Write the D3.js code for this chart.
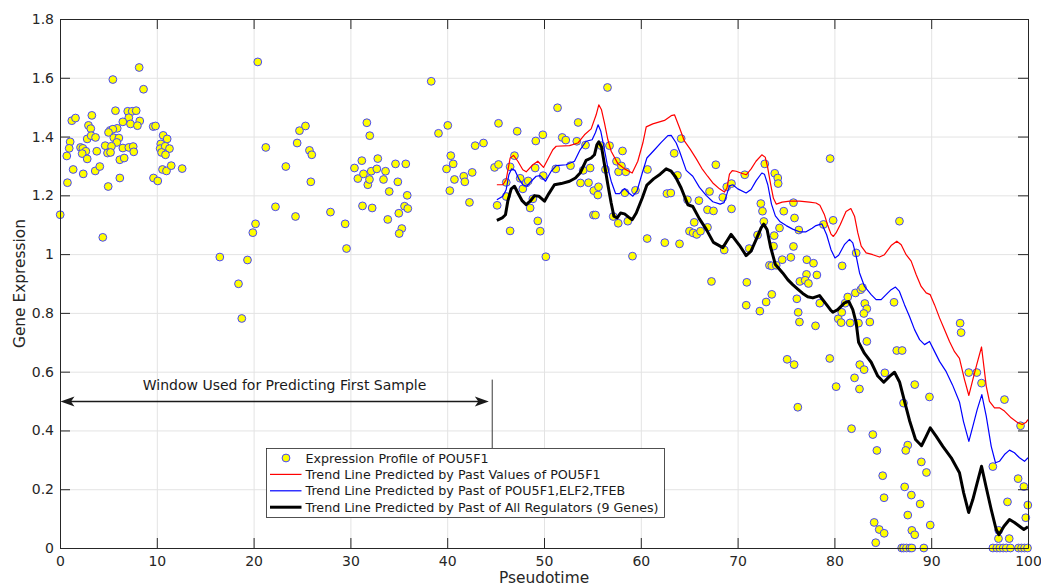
<!DOCTYPE html>
<html>
<head>
<meta charset="utf-8">
<script src="https://cdn.jsdelivr.net/npm/d3@7"></script>
<style>
  html, body { margin: 0; padding: 0; background: #fff; }
  svg { display: block; font-family: "DejaVu Sans", sans-serif; }
</style>
</head>
<body>
<svg id="chart" width="1041" height="586"></svg>
<script>
// Tick labels
const xTicks = [0, 10, 20, 30, 40, 50, 60, 70, 80, 90, 100];
const yTicks = [0, 0.2, 0.4, 0.6, 0.8, 1, 1.2, 1.4, 1.6, 1.8];

// Measured expression of POU5F1 along pseudotime: [pseudotime, expression]
const profile = [
  [0.02,1.134],[4.42,1.057],[8.18,1.635],[5.46,1.594],[8.63,1.561],[1.22,1.454],[1.6,1.463],[3.29,1.472],[5.73,1.488],[7.0,1.486],
  [7.46,1.486],[7.87,1.488],[7.11,1.464],[6.49,1.45],[7.28,1.443],[8.24,1.453],[8.0,1.437],[9.63,1.434],[9.87,1.436],[2.94,1.438],
  [3.18,1.427],[5.91,1.428],[5.18,1.421],[5.46,1.425],[5.01,1.414],[2.81,1.392],[3.22,1.403],[3.67,1.397],[5.56,1.396],[6.08,1.395],
  [5.87,1.38],[1.05,1.382],[0.95,1.36],[0.7,1.334],[2.12,1.363],[2.36,1.36],[2.67,1.35],[2.29,1.342],[2.81,1.324],[3.8,1.35],
  [4.67,1.369],[5.32,1.367],[4.91,1.344],[5.22,1.346],[6.49,1.361],[7.11,1.363],[7.56,1.366],[7.62,1.348],[6.18,1.321],[6.63,1.327],
  [1.36,1.288],[2.4,1.273],[0.77,1.243],[3.64,1.283],[4.11,1.298],[4.98,1.23],[6.18,1.259],[9.66,1.259],[10.1,1.249],[10.66,1.404],
  [11.07,1.392],[10.41,1.375],[10.35,1.359],[10.87,1.367],[11.31,1.359],[10.49,1.346],[10.9,1.338],[10.59,1.288],[11.0,1.283],[11.49,1.301],
  [12.62,1.291],
  [20.43,1.654],[38.35,1.588],[16.51,0.99],[18.44,0.899],[18.78,0.781],[19.37,0.98],[19.92,1.073],[20.2,1.103],[21.26,1.363],[22.26,1.161],
  [23.33,1.298],[24.33,1.128],[24.74,1.42],[25.36,1.436],[24.5,1.378],[25.77,1.353],[26.01,1.338],[25.91,1.246],[27.94,1.143],[29.46,1.103],
  [29.6,1.019],[31.7,1.447],[32.0,1.403],[30.42,1.293],[31.18,1.318],[30.77,1.257],[31.35,1.273],[31.8,1.236],[31.97,1.254],[32.15,1.282],
  [32.73,1.29],[32.83,1.325],[33.42,1.254],[33.63,1.282],[34.01,1.213],[34.66,1.307],[35.72,1.307],[34.9,1.246],[31.25,1.164],[32.25,1.157],
  [33.86,1.118],[35.0,1.139],[35.59,1.163],[35.93,1.155],[35.87,1.2],[35.31,1.087],[35.04,1.07],[39.1,1.411],[40.06,1.438],[40.37,1.335],
  [40.62,1.307],[39.93,1.29],[40.75,1.254],[40.27,1.216],[41.71,1.265],[41.82,1.246],[42.3,1.176],
  [42.89,1.369],[43.75,1.378],[42.58,1.278],[45.3,1.445],[44.89,1.295],[45.3,1.305],[45.16,1.166],[46.1,1.244],[46.1,1.196],[46.5,1.297],
  [46.95,1.335],[47.23,1.418],[46.5,1.079],[47.54,1.258],[47.81,1.222],[48.16,1.242],[48.37,1.249],[48.57,1.157],[48.85,1.188],[49.09,1.293],
  [49.15,1.385],[49.88,1.406],[49.36,1.113],[49.61,1.078],[49.92,1.267],[50.19,0.991],[51.4,1.498],[51.22,1.29],[51.88,1.397],[52.25,1.388],
  [52.74,1.301],[53.39,1.384],[53.53,1.448],[53.77,1.242],[54.05,1.285],[54.29,1.371],[54.6,1.243],[54.77,1.293],[55.14,1.216],[55.56,1.201],
  [55.63,1.229],[55.11,1.133],[55.32,1.133],[55.91,1.369],[56.77,1.369],[56.56,1.567],[56.35,1.288],[57.15,1.128],[57.67,1.105],[58.11,1.351],
  [57.49,1.316],[57.7,1.28],[58.45,1.28],[58.0,1.3],[58.35,1.209],[58.66,1.112],[59.14,0.993],[59.45,1.217],[60.69,1.288],[60.66,1.053],
  [62.48,1.039],[62.7,1.206],[63.1,1.208],
  [64.17,1.393],[63.45,1.343],[63.79,1.268],[67.75,1.304],[64.82,1.185],[66.0,1.182],[67.1,1.213],[66.89,1.151],[67.51,1.147],[68.47,1.193],
  [68.88,1.229],[69.37,1.24],[70.74,1.27],[69.37,1.154],[65.52,1.108],[65.03,1.078],[65.41,1.072],[65.78,1.067],[66.17,1.078],[66.89,1.091],
  [64.0,1.035],[68.62,1.014],[67.3,0.907],[70.95,0.904],[70.89,0.826],[71.2,1.019],[72.06,1.065],[72.3,0.806],[72.95,0.837],[73.53,0.863],
  [72.4,1.172],[72.57,1.146],[72.71,1.111],[72.81,1.307],[73.84,1.275],[74.15,1.259],[74.19,1.24],[73.78,1.063],[73.71,1.027],[73.29,0.962],
  [73.53,0.96],[73.99,0.962],[74.33,1.089],[74.77,1.146],[75.77,1.175],[75.88,1.123],[74.61,0.981],[75.5,0.989],[75.77,1.026],[77.15,0.981],
  [77.84,0.969],[78.19,0.929],[77.12,0.931],[76.43,0.907],[76.98,0.911],[77.32,0.9],[76.12,0.848],[76.26,0.802],[76.39,0.769],[78.05,0.756],
  [78.49,0.833],[79.87,1.115],[79.56,1.325],[78.87,1.101],[76.32,1.082],
  [80.4,0.78],[80.7,0.767],[80.76,0.802],[80.8,0.96],[82.25,1.004],[86.72,1.112],[86.16,0.836],[81.63,0.766],[82.49,0.765],[81.11,0.833],
  [81.38,0.854],[82.17,0.868],[82.73,0.879],[82.9,0.886],[83.14,0.832],[83.35,0.814],[83.04,0.798],[83.66,0.769],[83.35,0.703],[75.12,0.642],
  [75.84,0.624],[79.52,0.645],[82.62,0.624],[83.07,0.607],[82.08,0.579],[80.18,0.549],[82.59,0.541],[85.21,0.596],[86.44,0.672],[87.0,0.672],
  [88.3,0.556],[89.82,0.514],[92.99,0.765],[93.09,0.733],[93.88,0.597],[94.71,0.597],[95.2,0.561],[97.57,0.505],[76.22,0.479],[81.77,0.406],
  [87.14,0.493],[83.97,0.386],[84.39,0.332],[87.58,0.35],[87.37,0.332],[88.98,0.293],[89.51,0.257],[84.99,0.246],[85.13,0.171],[87.26,0.208],
  [87.95,0.18],[88.86,0.15],[87.58,0.112],[84.11,0.087],[84.63,0.063],[85.14,0.05],[84.27,0.018],[88.0,0.06],[88.3,0.045],[89.9,0.078],
  [86.95,0],[87.15,0],[87.45,0],[87.8,0],[88.0,0],[89.24,0],
  [99.23,0.416],[96.37,0.277],[98.98,0.236],[99.57,0.209],[97.88,0.157],[99.98,0.146],[99.77,0.103],[96.98,0.06],[96.95,0.032],[98.06,0.032],
  [96.37,0],[96.78,0],[97.09,0],[97.44,0],[97.75,0],[98.19,0],[99.02,0],[99.33,0],[99.64,0],[99.95,0]
];

// Trend predicted from past values of POU5F1 only
const trendSelf = [
  [45.13,1.236],[45.75,1.236],[46.09,1.253],[46.5,1.327],[46.85,1.336],[47.3,1.316],[47.81,1.287],[48.16,1.28],[48.85,1.304],[49.36,1.316],
  [49.95,1.295],[50.91,1.355],[51.26,1.367],[52.64,1.369],[53.49,1.378],[54.18,1.406],[54.87,1.426],[55.39,1.474],[55.66,1.508],[55.94,1.491],
  [56.25,1.446],[56.6,1.389],[56.94,1.35],[57.63,1.308],[58.32,1.29],[59.11,1.276],[59.69,1.316],[60.21,1.378],[60.56,1.433],[61.24,1.443],
  [62.45,1.455],[63.14,1.471],[63.48,1.474],[64.0,1.43],[64.5,1.385],[65.1,1.357],[65.72,1.325],[66.3,1.292],[66.9,1.265],[67.5,1.24],
  [68.13,1.222],[68.64,1.211],[68.9,1.225],[69.16,1.272],[69.45,1.284],[69.85,1.282],[70.4,1.275],[70.89,1.27],[71.4,1.29],[71.9,1.316],
  [72.5,1.338],[72.85,1.33],[73.1,1.296],[73.4,1.24],[73.7,1.19],[74.0,1.17],[74.6,1.177],[75.4,1.18],[76.4,1.18],[77.42,1.177],
  [78.1,1.174],[78.5,1.166],[78.96,1.135],[79.31,1.098],[79.65,1.068],[79.89,1.06],[80.17,1.072],[80.6,1.1],[81.2,1.145],[81.7,1.155],
  [82.08,1.129],[82.42,1.072],[82.77,1.027],[83.28,1.004],[83.97,0.998],[84.66,0.99],[85.17,0.998],[85.86,1.029],[86.45,1.044],[86.9,1.032],
  [87.41,0.998],[87.93,0.976],[88.45,0.93],[88.96,0.89],[89.48,0.868],[89.9,0.862],[90.34,0.828],[90.86,0.783],[91.38,0.743],[91.89,0.703],
  [92.41,0.668],[92.92,0.645],[93.44,0.573],[93.89,0.519],[94.3,0.573],[94.71,0.625],[95.2,0.684],[95.69,0.55],[96.02,0.499],[96.54,0.477],
  [97.05,0.477],[97.57,0.466],[98.26,0.443],[98.95,0.426],[99.4,0.42],[99.81,0.428],[100,0.437]
];

// Trend predicted from past of POU5F1, ELF2 and TFEB
const trendThree = [
  [45.13,1.185],[45.75,1.197],[46.09,1.219],[46.37,1.27],[46.64,1.29],[46.99,1.285],[47.4,1.256],[47.81,1.236],[48.23,1.231],[48.68,1.248],
  [49.19,1.265],[49.61,1.267],[50.16,1.248],[50.74,1.282],[51.26,1.301],[52.29,1.304],[53.15,1.316],[53.73,1.355],[54.35,1.384],[54.97,1.389],
  [55.32,1.414],[55.59,1.44],[55.87,1.418],[56.25,1.355],[56.6,1.293],[56.94,1.248],[57.39,1.206],[57.81,1.206],[58.32,1.223],[58.77,1.208],
  [59.18,1.197],[59.6,1.214],[60.15,1.276],[60.63,1.327],[61.42,1.355],[62.11,1.38],[62.8,1.403],[63.14,1.404],[63.66,1.378],[64.0,1.35],
  [64.69,1.285],[65.37,1.265],[66.06,1.227],[66.75,1.2],[67.44,1.178],[68.2,1.17],[68.6,1.175],[68.85,1.2],[69.16,1.232],[69.5,1.236],
  [70.02,1.222],[70.88,1.208],[71.39,1.22],[71.92,1.25],[72.5,1.276],[72.77,1.272],[73.12,1.236],[73.5,1.17],[73.9,1.13],[74.4,1.11],
  [75.02,1.097],[75.69,1.085],[76.39,1.076],[77.07,1.076],[77.7,1.088],[78.1,1.097],[78.7,1.103],[79.2,1.066],[79.65,1.015],[80.06,0.987],
  [80.44,0.996],[81.03,1.032],[81.56,1.05],[81.9,1.038],[82.25,0.993],[82.6,0.936],[83.11,0.89],[83.8,0.862],[84.31,0.845],[84.83,0.845],
  [85.34,0.862],[85.86,0.879],[86.31,0.888],[86.72,0.873],[87.24,0.828],[87.76,0.788],[88.28,0.743],[88.8,0.709],[89.31,0.692],[89.83,0.703],
  [90.34,0.669],[90.86,0.635],[91.55,0.6],[92.2,0.555],[92.92,0.497],[93.33,0.431],[93.89,0.363],[94.3,0.414],[94.75,0.471],[95.23,0.522],
  [95.69,0.448],[96.2,0.346],[96.64,0.29],[97.05,0.295],[97.57,0.318],[98.09,0.333],[98.6,0.324],[99.12,0.307],[99.64,0.295],[100,0.307]
];

// Trend predicted from past of all nine regulators
const trendAll = [
  [45.13,1.115],[45.68,1.123],[46.02,1.134],[46.26,1.18],[46.61,1.222],[46.95,1.231],[47.3,1.208],[47.71,1.183],[48.16,1.168],[48.57,1.18],
  [49.02,1.199],[49.46,1.197],[50.05,1.18],[50.5,1.206],[51.08,1.236],[51.77,1.24],[52.64,1.248],[53.25,1.259],[53.73,1.276],[54.35,1.319],
  [54.87,1.327],[55.21,1.338],[55.46,1.372],[55.66,1.382],[55.94,1.365],[56.25,1.304],[56.6,1.236],[56.94,1.174],[57.22,1.129],[57.56,1.123],
  [57.91,1.14],[58.32,1.137],[58.77,1.125],[59.11,1.117],[59.53,1.14],[60.15,1.191],[60.63,1.235],[61.32,1.256],[62.0,1.272],[62.62,1.29],
  [63.14,1.282],[63.59,1.263],[64.17,1.225],[64.86,1.168],[65.37,1.162],[66.06,1.12],[66.75,1.085],[67.5,1.04],[68.47,1.022],[68.88,1.044],
  [69.33,1.067],[70.19,1.03],[70.88,0.995],[71.39,1.01],[71.91,1.049],[72.43,1.089],[72.7,1.102],[73.05,1.083],[73.4,1.025],[73.9,0.965],
  [74.66,0.936],[75.18,0.913],[75.69,0.896],[76.21,0.881],[76.73,0.866],[77.24,0.855],[77.77,0.851],[78.46,0.859],[79.15,0.83],[79.6,0.81],
  [79.84,0.802],[80.35,0.811],[81.04,0.834],[81.49,0.839],[81.9,0.811],[82.25,0.766],[82.5,0.7],[83.11,0.662],[83.8,0.632],[84.48,0.585],
  [85.1,0.564],[85.69,0.584],[86.21,0.598],[86.73,0.565],[87.24,0.5],[87.76,0.434],[88.38,0.369],[89.0,0.348],[89.48,0.38],[89.9,0.409],
  [90.52,0.38],[91.2,0.346],[92.07,0.307],[92.92,0.256],[93.35,0.188],[93.87,0.121],[94.3,0.165],[94.75,0.222],[95.2,0.278],[95.69,0.205],
  [96.2,0.131],[96.71,0.063],[97.0,0.045],[97.52,0.074],[98.09,0.097],[98.6,0.087],[99.12,0.074],[99.57,0.063],[100,0.072]
];

const legendLabels = [
  "Expression Profile of POU5F1",
  "Trend Line Predicted by Past Values of POU5F1",
  "Trend Line Predicted by Past of POU5F1,ELF2,TFEB",
  "Trend Line Predicted by Past of All Regulators (9 Genes)"
];

// Prediction window: first sample is predicted from pseudotime 0 up to here
const windowStart = 0;
const windowEnd = 44.3;
const windowLevel = 0.5;
const firstSample = 44.6;

const AXIS = "#262626";
const GRID = "#e3e3e3";
const MARKER_R = 3.9;

const svg = d3.select("#chart");
svg.append("rect").attr("width", 1041).attr("height", 586).attr("fill", "#fff");

const x = d3.scaleLinear().domain([0, 100]).range([60, 1028]);
const y = d3.scaleLinear().domain([0, 1.8]).range([548, 19]);
const off = 0.5;

// grid
const grid = svg.append("g");
grid.selectAll(".gx").data(xTicks).join("line")
  .attr("x1", d => x(d) + off).attr("x2", d => x(d) + off)
  .attr("y1", y(0) + off).attr("y2", y(1.8) + off)
  .attr("stroke", GRID).attr("stroke-width", 1);
grid.selectAll(".gy").data(yTicks).join("line")
  .attr("y1", d => y(d) + off).attr("y2", d => y(d) + off)
  .attr("x1", x(0) + off).attr("x2", x(100) + off)
  .attr("stroke", GRID).attr("stroke-width", 1);

// window annotation
const ann = svg.append("g");
ann.append("line")
  .attr("x1", x(firstSample) + off).attr("x2", x(firstSample) + off)
  .attr("y1", y(0.573)).attr("y2", y(0.34))
  .attr("stroke", "#3a3a3a").attr("stroke-width", 1);
const ay = y(windowLevel) + off;
const ax0 = x(windowStart) + off, ax1 = x(windowEnd);
ann.append("line")
  .attr("x1", ax0 + 6).attr("x2", ax1 - 6).attr("y1", ay).attr("y2", ay)
  .attr("stroke", "#1a1a1a").attr("stroke-width", 1.6);
ann.append("path")
  .attr("d", `M${ax0},${ay} L${ax0 + 14},${ay - 5} L${ax0 + 10.5},${ay} L${ax0 + 14},${ay + 5} Z`)
  .attr("fill", "#1a1a1a");
ann.append("path")
  .attr("d", `M${ax1},${ay} L${ax1 - 14},${ay - 5} L${ax1 - 10.5},${ay} L${ax1 - 14},${ay + 5} Z`)
  .attr("fill", "#1a1a1a");
ann.append("text")
  .attr("x", x(23.2)).attr("y", y(windowLevel) - 11)
  .attr("text-anchor", "middle").attr("font-size", 14).attr("fill", "#1a1a1a")
  .text("Window Used for Predicting First Sample");

// expression profile
svg.append("g").selectAll("circle").data(profile).join("circle")
  .attr("cx", d => x(d[0])).attr("cy", d => y(d[1]))
  .attr("r", MARKER_R)
  .attr("fill", "#ffff00").attr("stroke", "#4646ff").attr("stroke-width", 1);

// trend lines
const line = d3.line().x(d => x(d[0])).y(d => y(d[1]));
svg.append("path").datum(trendSelf).attr("d", line)
  .attr("fill", "none").attr("stroke", "#ff0000").attr("stroke-width", 1.2).attr("stroke-linejoin", "round");
svg.append("path").datum(trendThree).attr("d", line)
  .attr("fill", "none").attr("stroke", "#0000ff").attr("stroke-width", 1.2).attr("stroke-linejoin", "round");
svg.append("path").datum(trendAll).attr("d", line)
  .attr("fill", "none").attr("stroke", "#000000").attr("stroke-width", 3).attr("stroke-linejoin", "round");

// axes (ticks pointing inward, box on)
function styleAxis(g) {
  g.attr("font-family", null).attr("font-size", null);
  g.select(".domain").attr("stroke", AXIS).attr("stroke-width", 1);
  g.selectAll(".tick line").attr("stroke", AXIS).attr("stroke-width", 1);
  g.selectAll(".tick text").attr("fill", AXIS).attr("font-size", 14)
    .attr("font-family", "'DejaVu Sans', sans-serif");
}
const fmtY = d => String(Math.round(d * 10) / 10);

svg.append("g").attr("transform", `translate(0,${y(0)})`)
  .call(d3.axisBottom(x).tickValues(xTicks).tickSizeInner(-10).tickSizeOuter(0).tickPadding(8))
  .call(styleAxis);
svg.append("g").attr("transform", `translate(0,${y(1.8)})`)
  .call(d3.axisTop(x).tickValues(xTicks).tickSizeInner(-10).tickSizeOuter(0).tickFormat(""))
  .call(styleAxis);
svg.append("g").attr("transform", `translate(${x(0)},0)`)
  .call(d3.axisLeft(y).tickValues(yTicks).tickSizeInner(-10).tickSizeOuter(0).tickPadding(6).tickFormat(fmtY))
  .call(styleAxis);
svg.append("g").attr("transform", `translate(${x(100)},0)`)
  .call(d3.axisRight(y).tickValues(yTicks).tickSizeInner(-10).tickSizeOuter(0).tickFormat(""))
  .call(styleAxis);

// axis titles
svg.append("text")
  .attr("x", x(50)).attr("y", 583)
  .attr("text-anchor", "middle").attr("font-size", 15.4).attr("fill", AXIS)
  .text("Pseudotime");
svg.append("text")
  .attr("transform", `translate(25,${(y(0) + y(1.8)) / 2}) rotate(-90)`)
  .attr("text-anchor", "middle").attr("font-size", 15.4).attr("fill", AXIS)
  .text("Gene Expression");

// legend
const lg = svg.append("g").attr("transform", "translate(266.5,448.5)");
lg.append("rect").attr("width", 398).attr("height", 69)
  .attr("fill", "#fff").attr("stroke", AXIS).attr("stroke-width", 0.8);
const rowY = i => 9.5 + i * 16.4;
const styles = [
  null,
  { color: "#ff0000", width: 1.2 },
  { color: "#0000ff", width: 1.2 },
  { color: "#000000", width: 3 }
];
legendLabels.forEach((label, i) => {
  const ry = rowY(i);
  if (i === 0) {
    lg.append("circle").attr("cx", 19.5).attr("cy", ry).attr("r", MARKER_R)
      .attr("fill", "#ffff00").attr("stroke", "#4646ff").attr("stroke-width", 1);
  } else {
    lg.append("line").attr("x1", 3.5).attr("x2", 35).attr("y1", ry).attr("y2", ry)
      .attr("stroke", styles[i].color).attr("stroke-width", styles[i].width);
  }
  lg.append("text").attr("x", 39).attr("y", ry).attr("dy", "0.36em")
    .attr("font-size", 12.7).attr("fill", "#1a1a1a").text(label);
});
</script>
</body>
</html>
